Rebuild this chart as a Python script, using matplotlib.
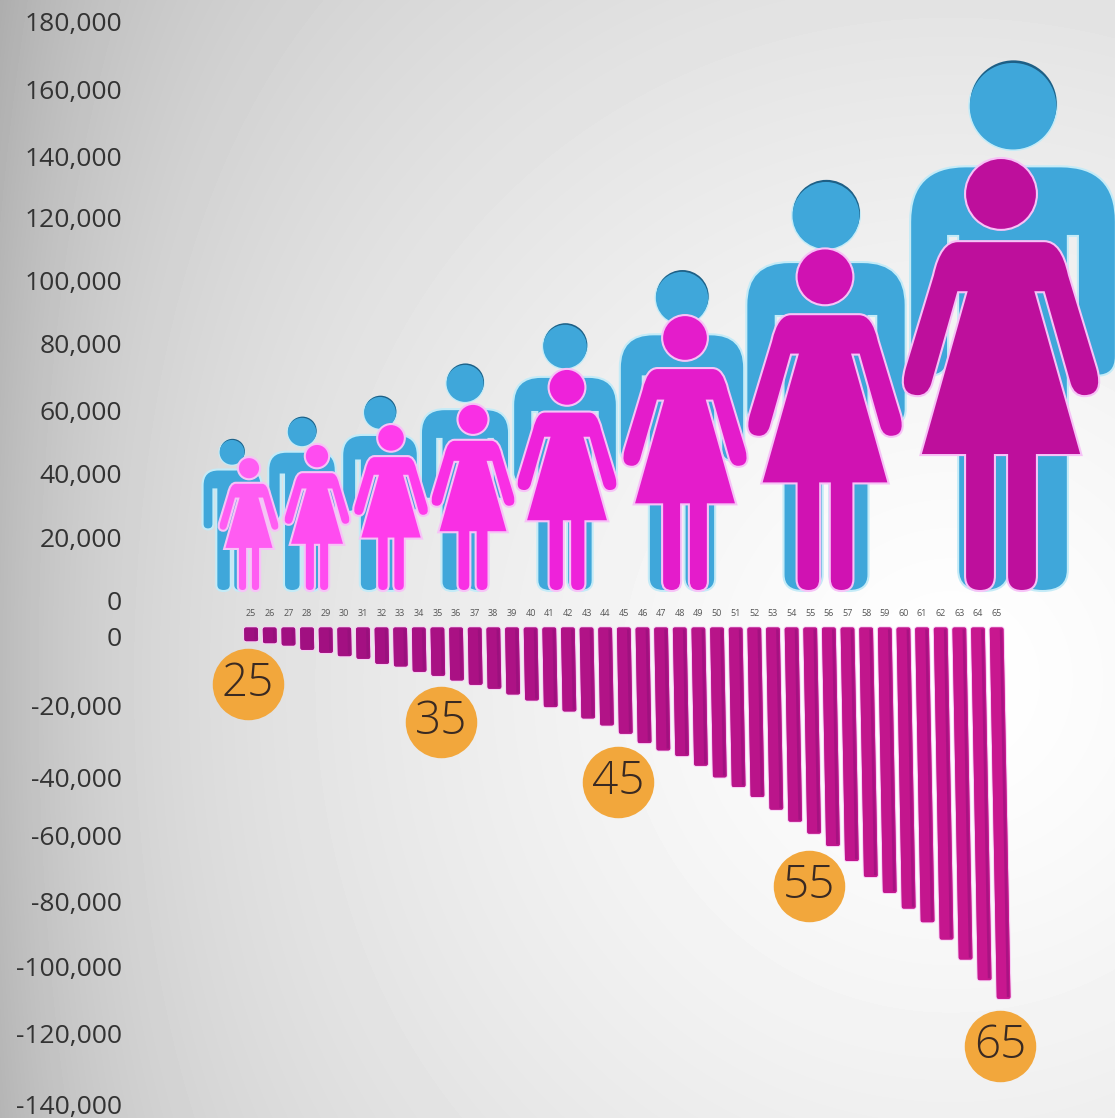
"""Pictogram chart: men and women silhouettes over a bar series by age."""
import matplotlib
matplotlib.use("Agg")
import matplotlib.pyplot as plt
import matplotlib.patheffects as pe
import numpy as np
from matplotlib.colors import LinearSegmentedColormap
from matplotlib.patches import PathPatch
from matplotlib.path import Path
from matplotlib.ticker import FuncFormatter
from matplotlib.transforms import Affine2D, ScaledTranslation

W, H = 1115, 1118

TOP_TICKS = list(range(0, 180001, 20000))
BOTTOM_TICKS = list(range(-140000, 1, 20000))
# the printed scale is not quite even: label offsets in px (+ = down)
TOP_NUDGE = [0, 1, 1, 2, 0, 1, 1.5, 4, 1.8, -1]
BOTTOM_NUDGE = [1, -2.4, -2.8, -1.2, -0.6, 5, 1.6, 0]

# people: horizontal position (picture px) and height of the icon's head top
MEN_X = [232, 302, 380, 465, 565, 682, 826, 1013]
MEN_TOP = [49900, 56800, 63300, 73300, 85800, 102300, 130300, 167400]
WOMEN_X = [249, 317, 391, 473, 567, 685, 825, 1001]
WOMEN_TOP = [44600, 48700, 54900, 61200, 72100, 88900, 109700, 137900]
WOMEN_COLORS = ["#FF5CF2", "#FF4CF0", "#FF3CEB", "#F92FE4", "#EE22DA",
                "#E41CCB", "#D012B2", "#BE0F9C"]
ICON_BASE = 2800

AGES = list(range(25, 66))
BAR_END = [
    -1100, -1700, -2400, -3700, -4600, -5600, -6400, -7900, -8700, -10300,
    -11500, -12900, -14200, -15400, -17100, -18900, -20900, -22200, -24300, -26400,
    -28900, -31700, -33900, -35600, -38500, -42000, -44900, -47900, -51700, -55300,
    -58900, -62600, -67100, -71900, -76700, -81400, -85500, -90700, -96700, -102900,
    -108500,
]
BAR_START = 2700

BADGE_LABELS = ["25", "35", "45", "55", "65"]
BADGE_X = [24.84, 35.19, 44.69, 54.94, 65.18]
BADGE_Y = [-14100, -25500, -43500, -74800, -122800]

TICK_COLOR = "#333333"
MAN_COLOR = "#3FA7DA"
BADGE_COLOR = "#F2A73C"
FONT = "Open Sans"


def outline(half):
    """Close a right-hand half outline by mirroring it across dx = 0."""
    codes = [c for c, _, _ in half]
    pts = [(x, y) for _, x, y in half]
    back = [(-x, y) for x, y in reversed(pts[:-1])]
    back_codes = [codes[i + 1] for i in range(len(pts) - 2, -1, -1)]
    return Path(pts + back, codes + back_codes)


M, L, C = Path.MOVETO, Path.LINETO, Path.CURVE3

MAN_HALF = [
    (M, 0, .805), (L, .09, .805), (C, .195, .805), (C, .195, .70),
    (L, .195, .445), (C, .195, .408), (C, .159, .408), (C, .123, .408), (C, .123, .445),
    (L, .123, .673), (L, .104, .673), (L, .104, .04),
    (C, .104, 0), (C, .056, 0), (C, .008, 0), (C, .008, .04),
    (L, .008, .39), (L, 0, .39),
]
WOMAN_HALF = [
    (M, 0, .808), (L, .10, .808), (C, .14, .808), (C, .157, .73),
    (L, .222, .515), (C, .24, .45), (C, .192, .45), (C, .168, .45), (C, .159, .478),
    (L, .099, .69), (L, .08, .69), (L, .186, .314), (L, .083, .314), (L, .083, .035),
    (C, .083, 0), (C, .048, 0), (C, .014, 0), (C, .014, .035),
    (L, .014, .314), (L, 0, .314),
]
MAN = Path.make_compound_path(outline(MAN_HALF), Path.circle((0, .919), .083))
WOMAN = Path.make_compound_path(outline(WOMAN_HALF), Path.circle((0, .917), .083))


def add_person(ax, shape, x, top, color, edge, z, px_per_value):
    height = top - ICON_BASE
    trans = Affine2D().scale(height * px_per_value, height).translate(x, ICON_BASE)
    ax.add_patch(PathPatch(shape, transform=trans + ax.transData, facecolor=color,
                           edgecolor=edge, linewidth=1.5, zorder=z))


plt.rcParams["font.family"] = [FONT, "DejaVu Sans"]
fig = plt.figure(figsize=(W / 100, H / 100), dpi=100)

# soft grey backdrop, brightest right of centre
ax_bg = fig.add_axes([0, 0, 1, 1])
yy, xx = np.mgrid[0:H, 0:W]
dist = np.hypot((xx - 950) / 1000, (yy - 680) / 1000)
shade = 1.0 - 0.18 * np.clip(dist, 0, 1.2) ** 1.3 - 0.10 * np.exp(-xx / 110)
ax_bg.imshow(shade, cmap="gray", vmin=0, vmax=1, aspect="auto")
ax_bg.axis("off")

# top panel: value axis for the icons
LEFT = 122
ax_top = fig.add_axes([LEFT / W, 1 - 612 / H, (W - LEFT) / W, 612 / H])
ax_top.patch.set_alpha(0)
ax_top.set_xlim(LEFT, W)
ax_top.set_ylim(-12 * 312, 600 * 312)
px_per_value = 1 / 312

for x, top in zip(MEN_X, MEN_TOP):
    height = top - ICON_BASE
    size = Affine2D().scale(height * px_per_value, height)
    # thin dark crescent on the crown, larger on the bigger figures
    crescent = size.frozen().translate(x + 0.5, ICON_BASE + 150 + 0.004 * height)
    ax_top.add_patch(PathPatch(Path.circle((0, .919), .082), transform=crescent + ax_top.transData,
                               facecolor="#1E5F85", edgecolor="none", zorder=4))
    add_person(ax_top, MAN, x, top, MAN_COLOR, "#C4EBF7", 3, px_per_value)
    face = size.frozen().translate(x, ICON_BASE)
    ax_top.add_patch(PathPatch(Path.circle((0, .919), .082), transform=face + ax_top.transData,
                               facecolor=MAN_COLOR, edgecolor="none", zorder=4))
for i, (x, top, color) in enumerate(zip(WOMEN_X, WOMEN_TOP, WOMEN_COLORS)):
    add_person(ax_top, WOMAN, x, top, color, "#F7C2F7", 5 + i, px_per_value)

# bottom panel: bars by age
ax_bot = fig.add_axes([LEFT / W, 0, (W - LEFT) / W, (H - 621) / H])
ax_bot.patch.set_alpha(0)
PX_PER_AGE = 18.64
VALUE_PER_PX = 300.3
ax_bot.set_xlim(25 + (LEFT - 251) / PX_PER_AGE, 25 + (W - 251) / PX_PER_AGE)
ax_bot.set_ylim(-(H - 637) * VALUE_PER_PX, 16 * VALUE_PER_PX)

cmap = LinearSegmentedColormap.from_list("bars", ["#9E0F80", "#C8178F"])
ages = np.array(AGES)
ends = np.array(BAR_END)
slant = 0.019 / (VALUE_PER_PX * PX_PER_AGE)
lean = Affine2D.from_values(1, 0, -slant, 1, slant * BAR_START, 0)
colors = cmap((ages - 25) / 40)
# round joins on a wide edge give the soft bar corners
inset = 400
bars = ax_bot.bar(ages, ends - BAR_START + 2 * inset, bottom=BAR_START - inset, width=0.54,
                  color=colors, edgecolor=colors, linewidth=2.6, zorder=3)
for bar in bars:
    bar.set_transform(lean + ax_bot.transData)
    bar.set_joinstyle("round")
    bar.set_path_effects([pe.withStroke(linewidth=4.2, foreground="#F8CBF5"), pe.Normal()])
strips = ax_bot.bar(ages + 0.24, ends - BAR_START + 2 * inset, bottom=BAR_START - inset, width=0.14,
                    color="#8E1078", alpha=0.5, zorder=4)
for bar in strips:
    bar.set_transform(lean + ax_bot.transData)

ax_bot.scatter(BADGE_X, BADGE_Y, s=2650, color=BADGE_COLOR, linewidths=0, zorder=5)
for label, x, y in zip(BADGE_LABELS, BADGE_X, BADGE_Y):
    ax_bot.text(x, y, label, ha="center", va="center", fontsize=33, color="#3A2A22",
                fontweight="light", zorder=6)

# axes furniture
money = FuncFormatter(lambda v, _: f"{int(v):,}")
ax_top.set_xticks([])
ax_top.set_yticks(TOP_TICKS)
ax_bot.set_yticks(BOTTOM_TICKS)
for ax, nudges in ((ax_top, TOP_NUDGE), (ax_bot, BOTTOM_NUDGE)):
    ax.yaxis.set_major_formatter(money)
    ax.tick_params(axis="y", length=0, pad=0, labelsize=19, labelcolor=TICK_COLOR)
    for spine in ax.spines.values():
        spine.set_visible(False)
    for tick, dy in zip(ax.yaxis.get_major_ticks(), nudges):
        shift = ScaledTranslation(0, -dy / 72, fig.dpi_scale_trans)
        tick.label1.set_transform(tick.label1.get_transform() + shift)
ax_bot.xaxis.tick_top()
ax_bot.set_xticks(AGES)
ax_bot.tick_params(axis="x", length=0, pad=2, labelsize=6.5, labelcolor="#555555")

fig.savefig("out.png", dpi=100)
plt.close(fig)
